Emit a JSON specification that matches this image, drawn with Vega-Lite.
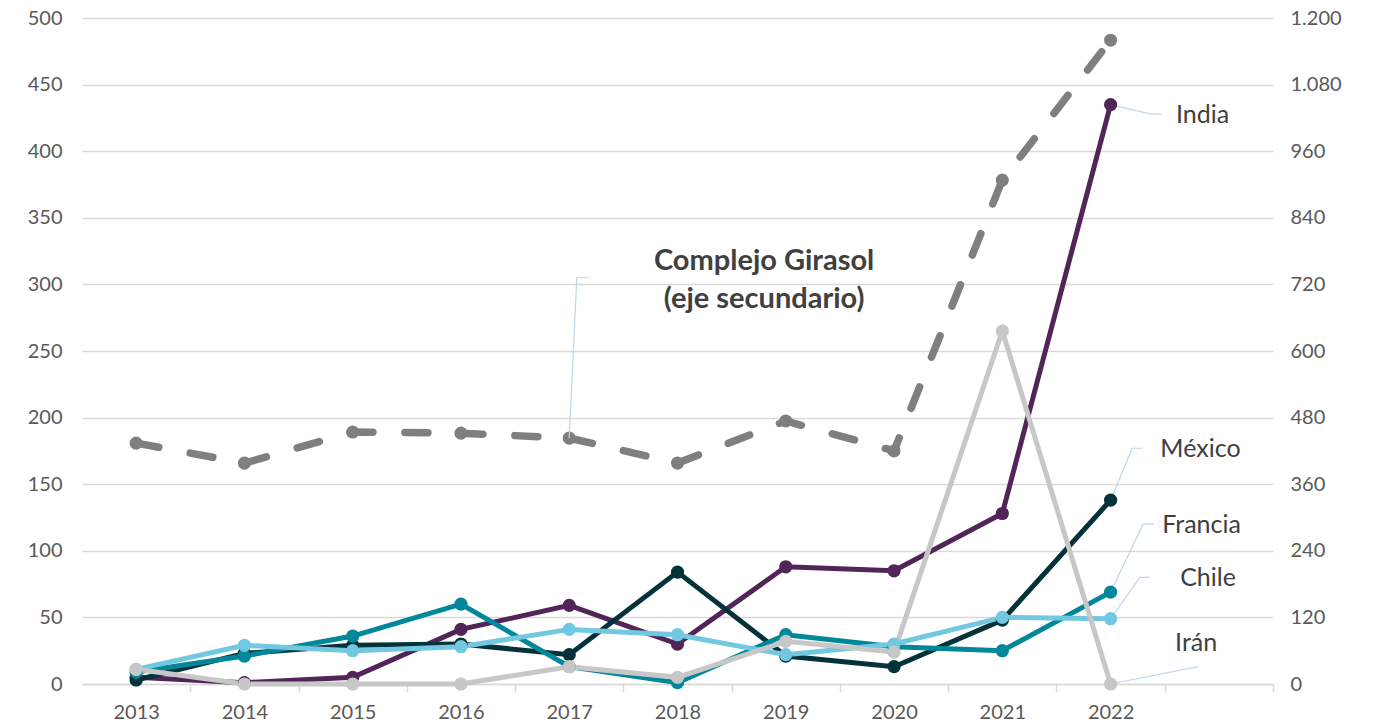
{
  "$schema": "https://vega.github.io/schema/vega-lite/v6.json",
  "width": 1191,
  "height": 666,
  "autosize": "none",
  "padding": {"left": 82, "top": 18, "right": 100, "bottom": 42},
  "background": "white",
  "config": {
    "view": {"stroke": null},
    "font": "Lato",
    "axis": {"labelFont": "Lato", "labelColor": "#595959", "labelFontSize": 20, "title": null}
  },
  "datasets": {
    "girasol": [
      {"anio": 2013, "valor": 434}, {"anio": 2014, "valor": 398}, {"anio": 2015, "valor": 454},
      {"anio": 2016, "valor": 452}, {"anio": 2017, "valor": 443}, {"anio": 2018, "valor": 398},
      {"anio": 2019, "valor": 474}, {"anio": 2020, "valor": 420}, {"anio": 2021, "valor": 908},
      {"anio": 2022, "valor": 1160}
    ],
    "paises": [
      {"pais": "India", "anio": 2013, "valor": 5}, {"pais": "India", "anio": 2014, "valor": 1},
      {"pais": "India", "anio": 2015, "valor": 5}, {"pais": "India", "anio": 2016, "valor": 41},
      {"pais": "India", "anio": 2017, "valor": 59}, {"pais": "India", "anio": 2018, "valor": 30},
      {"pais": "India", "anio": 2019, "valor": 88}, {"pais": "India", "anio": 2020, "valor": 85},
      {"pais": "India", "anio": 2021, "valor": 128}, {"pais": "India", "anio": 2022, "valor": 435},
      {"pais": "México", "anio": 2013, "valor": 3}, {"pais": "México", "anio": 2014, "valor": 23},
      {"pais": "México", "anio": 2015, "valor": 29}, {"pais": "México", "anio": 2016, "valor": 30},
      {"pais": "México", "anio": 2017, "valor": 22}, {"pais": "México", "anio": 2018, "valor": 84},
      {"pais": "México", "anio": 2019, "valor": 21}, {"pais": "México", "anio": 2020, "valor": 13},
      {"pais": "México", "anio": 2021, "valor": 48}, {"pais": "México", "anio": 2022, "valor": 138},
      {"pais": "Francia", "anio": 2013, "valor": 9}, {"pais": "Francia", "anio": 2014, "valor": 21},
      {"pais": "Francia", "anio": 2015, "valor": 36}, {"pais": "Francia", "anio": 2016, "valor": 60},
      {"pais": "Francia", "anio": 2017, "valor": 13}, {"pais": "Francia", "anio": 2018, "valor": 1},
      {"pais": "Francia", "anio": 2019, "valor": 37}, {"pais": "Francia", "anio": 2020, "valor": 28},
      {"pais": "Francia", "anio": 2021, "valor": 25}, {"pais": "Francia", "anio": 2022, "valor": 69},
      {"pais": "Chile", "anio": 2013, "valor": 11}, {"pais": "Chile", "anio": 2014, "valor": 29},
      {"pais": "Chile", "anio": 2015, "valor": 25}, {"pais": "Chile", "anio": 2016, "valor": 28},
      {"pais": "Chile", "anio": 2017, "valor": 41}, {"pais": "Chile", "anio": 2018, "valor": 37},
      {"pais": "Chile", "anio": 2019, "valor": 22}, {"pais": "Chile", "anio": 2020, "valor": 30},
      {"pais": "Chile", "anio": 2021, "valor": 50}, {"pais": "Chile", "anio": 2022, "valor": 49},
      {"pais": "Irán", "anio": 2013, "valor": 11}, {"pais": "Irán", "anio": 2014, "valor": 0},
      {"pais": "Irán", "anio": 2015, "valor": 0}, {"pais": "Irán", "anio": 2016, "valor": 0},
      {"pais": "Irán", "anio": 2017, "valor": 13}, {"pais": "Irán", "anio": 2018, "valor": 5},
      {"pais": "Irán", "anio": 2019, "valor": 32}, {"pais": "Irán", "anio": 2020, "valor": 24},
      {"pais": "Irán", "anio": 2021, "valor": 265}, {"pais": "Irán", "anio": 2022, "valor": 0}
    ],
    "guias": [
      {"guia": "India", "orden": 1, "anio": 2022, "valor": 435},
      {"guia": "India", "orden": 2, "anio": 2022.36, "valor": 428},
      {"guia": "India", "orden": 3, "anio": 2022.47, "valor": 428},
      {"guia": "México", "orden": 1, "anio": 2022, "valor": 138},
      {"guia": "México", "orden": 2, "anio": 2022.2, "valor": 177},
      {"guia": "México", "orden": 3, "anio": 2022.3, "valor": 177},
      {"guia": "Francia", "orden": 1, "anio": 2022, "valor": 69},
      {"guia": "Francia", "orden": 2, "anio": 2022.3, "valor": 120},
      {"guia": "Francia", "orden": 3, "anio": 2022.4, "valor": 120},
      {"guia": "Chile", "orden": 1, "anio": 2022, "valor": 49},
      {"guia": "Chile", "orden": 2, "anio": 2022.27, "valor": 80},
      {"guia": "Chile", "orden": 3, "anio": 2022.36, "valor": 80},
      {"guia": "Irán", "orden": 1, "anio": 2022, "valor": 0},
      {"guia": "Irán", "orden": 2, "anio": 2022.81, "valor": 13},
      {"guia": "Girasol", "orden": 1, "anio": 2017, "valor": 184.6},
      {"guia": "Girasol", "orden": 2, "anio": 2017.07, "valor": 305},
      {"guia": "Girasol", "orden": 3, "anio": 2017.18, "valor": 305}
    ],
    "etiquetas": [
      {"texto": "India", "anio": 2022.85, "valor": 427},
      {"texto": "México", "anio": 2022.83, "valor": 176.4},
      {"texto": "Francia", "anio": 2022.84, "valor": 119.4},
      {"texto": "Chile", "anio": 2022.9, "valor": 79.6},
      {"texto": "Irán", "anio": 2022.79, "valor": 30.8}
    ],
    "titulo": [
      {"texto": "Complejo Girasol", "anio": 2018.8, "valor": 317.6},
      {"texto": "(eje secundario)", "anio": 2018.8, "valor": 289}
    ]
  },
  "encoding": {
    "x": {
      "field": "anio",
      "type": "quantitative",
      "scale": {"domain": [2012.5, 2023.5], "nice": false, "zero": false},
      "axis": {
        "values": [2012, 2013, 2014, 2015, 2016, 2017, 2018, 2019, 2020, 2021, 2022, 2023],
        "labelExpr": "datum.value < 2013 || datum.value > 2022 ? '' : datum.value",
        "tickOffset": 54.14,
        "labelOffset": -54.14,
        "grid": false,
        "domainColor": "#D9D9D9",
        "domainWidth": 1.5,
        "tickColor": "#D9D9D9",
        "tickWidth": 1.5,
        "tickSize": 8,
        "labelPadding": 10,
        "labelOverlap": false,
        "labelBound": false,
        "labelFlush": false
      }
    }
  },
  "layer": [
    {
      "data": {"name": "girasol"},
      "encoding": {
        "y": {
          "field": "valor",
          "type": "quantitative",
          "scale": {"domain": [0, 1200], "nice": false},
          "axis": {
            "orient": "right",
            "values": [0, 120, 240, 360, 480, 600, 720, 840, 960, 1080, 1200],
            "format": ",d",
            "labelExpr": "replace(datum.label, ',', '.')",
            "grid": false,
            "domain": false,
            "ticks": false,
            "labelPadding": 17
          }
        }
      },
      "layer": [
        {"mark": {"type": "line", "color": "#7F7F7F", "strokeWidth": 7.5, "strokeDash": [23, 32], "strokeCap": "round"}},
        {"mark": {"type": "point", "filled": true, "opacity": 1, "color": "#7F7F7F", "size": 170}}
      ]
    },
    {
      "encoding": {
        "y": {
          "field": "valor",
          "type": "quantitative",
          "scale": {"domain": [0, 500], "nice": false},
          "axis": {
            "orient": "left",
            "values": [0, 50, 100, 150, 200, 250, 300, 350, 400, 450, 500],
            "grid": true,
            "gridColor": "#D9D9D9",
            "gridWidth": 1.5,
            "domain": false,
            "ticks": false,
            "labelPadding": 20
          }
        }
      },
      "layer": [
        {
          "data": {"name": "guias"},
          "mark": {"type": "line", "color": "#BDD7EE", "strokeWidth": 1.2},
          "encoding": {"detail": {"field": "guia"}, "order": {"field": "orden"}}
        },
        {
          "data": {"name": "paises"},
          "encoding": {
            "color": {
              "field": "pais",
              "type": "nominal",
              "scale": {
                "domain": ["India", "México", "Francia", "Chile", "Irán"],
                "range": ["#512558", "#04323A", "#00889A", "#72C8E0", "#C7C7C7"]
              },
              "legend": null
            },
            "order": {"field": "anio"}
          },
          "layer": [
            {"mark": {"type": "line", "strokeWidth": 5}},
            {"mark": {"type": "point", "filled": true, "opacity": 1, "size": 175}}
          ]
        },
        {
          "data": {"name": "etiquetas"},
          "mark": {"type": "text", "fontSize": 25, "color": "#404040", "align": "center", "baseline": "middle", "font": "Lato"},
          "encoding": {"text": {"field": "texto"}}
        },
        {
          "data": {"name": "titulo"},
          "mark": {"type": "text", "fontSize": 29, "fontWeight": "bold", "color": "#404040", "align": "center", "baseline": "middle", "font": "Lato"},
          "encoding": {"text": {"field": "texto"}}
        }
      ]
    }
  ],
  "resolve": {"scale": {"y": "independent"}}
}
